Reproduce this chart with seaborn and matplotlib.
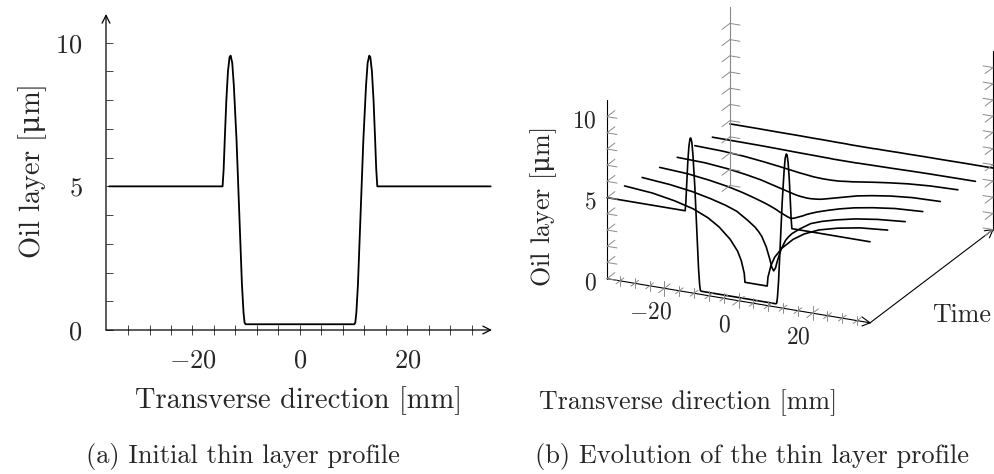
import numpy as np
import seaborn as sns
import matplotlib.pyplot as plt
from mpl_toolkits.mplot3d import proj3d

# Initial thin layer profile (x in mm, oil layer in um)
INIT_X = [-35.5, -14.4, -14.2, -14.0, -13.7, -13.4, -13.1, -12.9, -12.6, -12.3, -11.8,
          -11.2, -10.8, -10.5, -10.3, -10.1, 10.1, 10.3, 10.5, 10.8, 11.2, 11.8, 12.3,
          12.6, 12.9, 13.1, 13.4, 13.7, 14.0, 14.2, 14.4, 35.5]
INIT_H = [5.0, 5.0, 5.6, 6.6, 8.0, 9.0, 9.5, 9.55, 9.3, 8.5, 6.6,
          3.6, 1.6, 0.6, 0.25, 0.2, 0.2, 0.25, 0.6, 1.6, 3.6, 6.6, 8.5,
          9.3, 9.55, 9.5, 9.0, 8.0, 6.6, 5.6, 5.0, 5.0]

# Later profiles, read on a common grid
GRID_X = [-35.5, -28, -22, -17, -13, -10, -7, -5, -4, -3.2, -3, -2, -1, -0.5, 0,
          0.5, 1, 2, 3, 3.2, 4, 5, 7, 10, 13, 17, 22, 28, 35.5]
H_T1 = [4.9, 4.75, 4.5, 4.2, 3.8, 3.35, 2.7, 2.05, 1.5, 0.75, 0.2, 0.2, 0.2, 0.2, 0.2,
        0.2, 0.2, 0.2, 0.2, 0.75, 1.5, 2.05, 2.7, 3.35, 3.8, 4.2, 4.5, 4.75, 4.9]
H_T2 = [4.6, 4.45, 4.25, 4.0, 3.75, 3.5, 3.05, 2.7, 2.45, 2.2, 2.1, 1.6, 0.85, 0.4, 0.2,
        0.4, 0.85, 1.6, 2.1, 2.2, 2.45, 2.7, 3.05, 3.5, 3.75, 4.0, 4.25, 4.45, 4.6]
H_T3 = [4.4, 4.3, 4.12, 3.92, 3.7, 3.5, 3.28, 3.1, 3.0, 2.9, 2.88, 2.78, 2.68, 2.64, 2.62,
        2.64, 2.68, 2.78, 2.88, 2.9, 3.0, 3.1, 3.28, 3.5, 3.7, 3.92, 4.12, 4.3, 4.4]
H_T4 = [4.2, 4.15, 4.02, 3.85, 3.68, 3.5, 3.32, 3.2, 3.14, 3.1, 3.09, 3.06, 3.04, 3.03, 3.03,
        3.03, 3.04, 3.06, 3.09, 3.1, 3.14, 3.2, 3.32, 3.5, 3.68, 3.85, 4.02, 4.15, 4.2]
H_T5 = [4.1, 4.05, 3.95, 3.82, 3.7, 3.6, 3.5, 3.45, 3.42, 3.4, 3.4, 3.39, 3.38, 3.38, 3.38,
        3.38, 3.38, 3.39, 3.4, 3.4, 3.42, 3.45, 3.5, 3.6, 3.7, 3.82, 3.95, 4.05, 4.1]
H_T6 = [3.8, 3.79, 3.78, 3.76, 3.74, 3.73, 3.72, 3.71, 3.71, 3.7, 3.7, 3.7, 3.7, 3.7, 3.7,
        3.7, 3.7, 3.7, 3.7, 3.7, 3.71, 3.71, 3.72, 3.73, 3.74, 3.76, 3.78, 3.79, 3.8]
H_T7 = [3.8, 3.8, 3.79, 3.79, 3.78, 3.78, 3.77, 3.77, 3.77, 3.76, 3.76, 3.76, 3.76, 3.76, 3.76,
        3.76, 3.76, 3.76, 3.76, 3.76, 3.77, 3.77, 3.77, 3.78, 3.78, 3.79, 3.79, 3.8, 3.8]
TIMES = [0, 1, 2, 3, 4, 5, 6, 7]
LATER = [H_T1, H_T2, H_T3, H_T4, H_T5, H_T6, H_T7]

X_MAJOR = [-20, 0, 20]
X_LABELS = [r'$-20$', r'$0$', r'$20$']
Z_MAJOR = [0, 5, 10]
Z_LABELS = [r'$0$', r'$5$', r'$10$']
Y_TITLE = r'Oil layer [$\mathrm{\mu}$m]'

W, H = 994, 474
GRAY = '#8a8a8a'

sns.set_theme(style='white')
plt.rcParams['font.family'] = ['cmr10', 'DejaVu Serif']
plt.rcParams['mathtext.fontset'] = 'cm'
plt.rcParams['axes.unicode_minus'] = False


def fx(px):
    return px / W


def fy(py):
    return 1 - py / H


fig = plt.figure(figsize=(W / 100, H / 100), dpi=100)

# (a) initial profile
ax_a = fig.add_axes([fx(106), fy(330), (492 - 106) / W, (330 - 14) / H])
sns.lineplot(x=INIT_X, y=INIT_H, ax=ax_a, color='black', linewidth=1.3)
ax_a.set_xlim(-36.1, 35.75)
ax_a.set_ylim(0, 11)
for s in ax_a.spines.values():
    s.set_visible(False)
arrow = dict(arrowstyle='->', color='black', lw=0.9, shrinkA=0, shrinkB=0,
             mutation_scale=14)
ax_a.annotate('', xy=(1, 0), xytext=(0, 0), xycoords=('axes fraction', 'data'),
              textcoords=('axes fraction', 'data'), arrowprops=arrow)
ax_a.annotate('', xy=(0, 1), xytext=(0, 0), xycoords='axes fraction', arrowprops=arrow)
ax_a.set_xticks(X_MAJOR, labels=X_LABELS)
ax_a.set_xticks(np.arange(-32, 33, 4), minor=True)
ax_a.set_yticks(Z_MAJOR, labels=Z_LABELS)
ax_a.set_yticks(np.arange(0, 11, 1), minor=True)
ax_a.tick_params(axis='x', which='both', direction='inout', length=7, width=0.7,
                 color='#444444', labelsize=19, pad=10, bottom=True)
ax_a.tick_params(axis='y', which='both', direction='in', length=5, width=0.7,
                 color='#444444', labelsize=19, pad=17, left=True)
ax_a.set_xlabel('Transverse direction [mm]', size=20.5, va='baseline')
ax_a.xaxis.set_label_coords((299 - 106) / 386, (330 - 408) / 316)
ax_a.set_ylabel(Y_TITLE, size=20.5, math_fontfamily='dejavuserif', va='baseline',
                rotation_mode='anchor')
ax_a.yaxis.set_label_coords((40 - 106) / 386, (330 - 172) / 316)
ax_a.grid(False)

fig.text(fx(243), fy(463), '(a) Initial thin layer profile', ha='center', va='baseline', size=19)

# (b) evolution of the profile
XMIN, XMAX = INIT_X[0], INIT_X[-1]
TMAX = TIMES[-1]
ZMAX = 11
ax_b = fig.add_axes([0.5, 0.0, 0.5, 1.0], projection='3d', computed_zorder=False)
ax_b.set_proj_type('ortho')
ax_b.view_init(elev=20.9, azim=-64.8)
ax_b.set_box_aspect((291, 289, 191))
ax_b.set_xticks([])
ax_b.set_yticks([])
ax_b.set_zticks([])
ax_b.set_axis_off()
ax_b.patch.set_alpha(0)
# the 3d axes box is larger than the figure: hide its unused texts
for txt in (ax_b.title, ax_b._left_title, ax_b._right_title,
            ax_b.xaxis.label, ax_b.yaxis.label, ax_b.zaxis.label,
            ax_b.xaxis.offsetText, ax_b.yaxis.offsetText, ax_b.zaxis.offsetText):
    txt.set_visible(False)

ax_b.plot(INIT_X, [TIMES[0]] * len(INIT_X), INIT_H, color='black', lw=1.2)
for t, h in zip(TIMES[1:], LATER):
    ax_b.plot(GRID_X, [t] * len(GRID_X), h, color='black', lw=1.2)


def seg(p, q, **kw):
    ax_b.plot([p[0], q[0]], [p[1], q[1]], [p[2], q[2]], clip_on=False, **kw)


# box edges
seg((XMIN, 0, 0), (XMIN, 0, ZMAX), color='black', lw=0.8)
seg((XMAX, TMAX, 0), (XMAX, TMAX, ZMAX), color='black', lw=0.8)
seg((XMIN, TMAX, 0), (XMIN, TMAX, ZMAX), color=GRAY, lw=0.8)
seg((XMIN, 0, 0), (XMAX, 0, 0), color='black', lw=0.8)
seg((XMAX, 0, 0), (XMAX, TMAX, 0), color='black', lw=0.8)
# arrow heads
for sgn in (1, -1):
    seg((XMAX, 0, 0), (XMAX - 2.2, 0, 0.28 * sgn), color='black', lw=0.8)
    seg((XMAX, TMAX, 0), (XMAX + 0.7 * sgn, TMAX - 0.35, -0.19 * sgn), color='black', lw=0.8)

# ticks on x axis
for xv in np.arange(-32, 33, 4):
    big = 1.5 if xv in X_MAJOR else 1.0
    seg((xv, 0, -0.3 * big), (xv, 0, 0.3 * big), color=GRAY, lw=0.7)
    seg((xv, -0.22 * big, 0), (xv, 0.22 * big, 0), color=GRAY, lw=0.7)
# ticks on vertical edges
for zv in range(0, 11):
    seg((XMIN, 0, zv), (XMIN + 2.7, 0, zv), color=GRAY, lw=0.7)
    seg((XMIN, 0, zv), (XMIN, 0.45, zv), color=GRAY, lw=0.7)
    seg((XMAX, TMAX, zv), (XMAX - 2.7, TMAX, zv), color=GRAY, lw=0.7)
    seg((XMAX, TMAX, zv), (XMAX, TMAX - 0.45, zv), color=GRAY, lw=0.7)
    seg((XMIN, TMAX, zv), (XMIN + 2.7, TMAX, zv), color=GRAY, lw=0.7)
    seg((XMIN, TMAX, zv), (XMIN, TMAX - 0.45, zv), color=GRAY, lw=0.7)

for xv, lab in zip(X_MAJOR, X_LABELS):
    ax_b.text(xv, -0.8, -0.85, lab, ha='center', va='center', size=17)
for zv, lab in zip(Z_MAJOR, Z_LABELS):
    ax_b.text(XMIN - 2.7, 0, zv - 0.38, lab, ha='right', va='center', size=17)

ax_b.set_xlim(XMIN, XMAX)
ax_b.set_ylim(0, TMAX)
ax_b.set_zlim(0, ZMAX)

# fit the projected box onto the wanted pixel area
fig.canvas.draw()
cx, cy, cz = zip(*[(a, b, c) for a in (XMIN, XMAX) for b in (0, TMAX) for c in (0, ZMAX)])
px, py, _ = proj3d.proj_transform(np.array(cx), np.array(cy), np.array(cz), ax_b.get_proj())
pts = ax_b.transData.transform(np.column_stack([px, py]))
bw = pts[:, 0].max() - pts[:, 0].min()
bcx = (pts[:, 0].max() + pts[:, 0].min()) / 2
bcy = (pts[:, 1].max() + pts[:, 1].min()) / 2
pos = ax_b.get_position()
acx = (pos.x0 + pos.width / 2) * W
acy = (pos.y0 + pos.height / 2) * H
scale = (993 - 607) / bw
size = pos.width * W * scale
tcx, tcy = (607 + 993) / 2, H - (7 + 323) / 2
ncx = tcx - (bcx - acx) * scale
ncy = tcy - (bcy - acy) * scale
ax_b.set_position([(ncx - size / 2) / W, (ncy - size / 2) / H, size / W, size / H])

fig.text(fx(688), fy(409), 'Transverse direction [mm]', ha='center', va='baseline', size=18.7)
fig.text(fx(550), fy(207), Y_TITLE, rotation=90, rotation_mode='anchor',
         ha='center', va='baseline', size=18.7, math_fontfamily='dejavuserif')
fig.text(fx(962), fy(322), 'Time', ha='center', va='baseline', size=18.7)
fig.text(fx(752), fy(463), '(b) Evolution of the thin layer profile', ha='center',
         va='baseline', size=19)

fig.savefig('out.png', dpi=100)
plt.close(fig)
